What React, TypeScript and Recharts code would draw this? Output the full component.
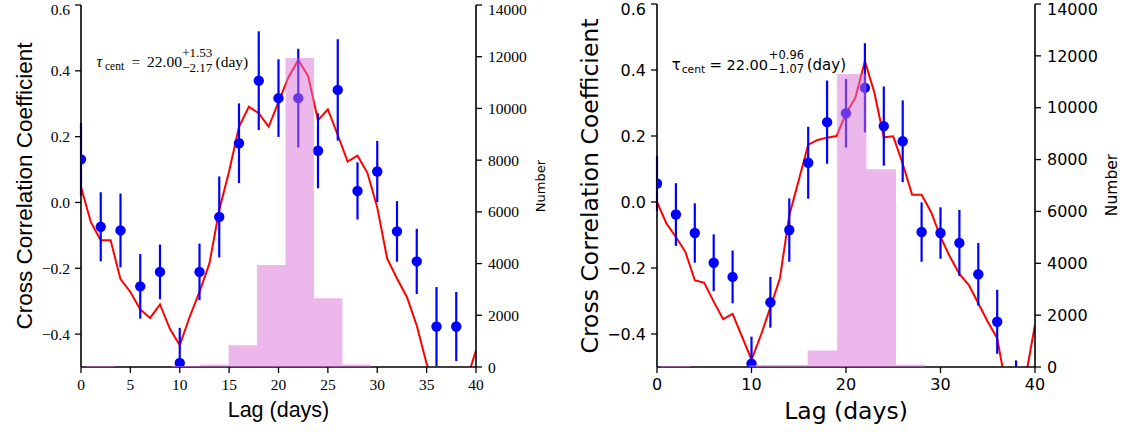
import React from 'react';
import { ComposedChart, XAxis, YAxis, Line, Scatter, ErrorBar, Area } from 'recharts';

// Lag grid (days) of the interpolated cross-correlation curve
const curveLags = [
  0, 1, 2, 3, 4, 5, 6, 7, 8, 9, 10, 11, 12, 13, 14, 15, 16, 17, 18, 19, 20,
  21, 22, 23, 24, 25, 26, 27, 28, 29, 30, 31, 32, 33, 34, 35, 36, 37, 38, 39, 40,
];
const iccfA = [
  0.047, -0.06, -0.115, -0.115, -0.233, -0.272, -0.325, -0.351, -0.31, -0.384, -0.434,
  -0.348, -0.272, -0.186, -0.023, 0.095, 0.23, 0.291, 0.271, 0.23, 0.305,
  0.38, 0.433, 0.384, 0.25, 0.283, 0.205, 0.124, 0.142, 0.09, -0.015,
  -0.17, -0.231, -0.287, -0.374, -0.49, -0.57, -0.62, -0.63, -0.545, -0.45,
];
const iccfB = [
  0.0, -0.065, -0.106, -0.151, -0.237, -0.245, -0.302, -0.355, -0.339, -0.408, -0.478,
  -0.403, -0.319, -0.232, -0.04, 0.066, 0.174, 0.188, 0.195, 0.2, 0.268,
  0.317, 0.427, 0.332, 0.196, 0.199, 0.116, 0.022, 0.022, -0.03, -0.106,
  -0.166, -0.218, -0.252, -0.307, -0.363, -0.413, -0.57, -0.62, -0.532, -0.372,
];

// Discrete correlation points with symmetric 1-sigma errors
const pointLags = [0, 2, 4, 6, 8, 10, 12, 14, 16, 18, 20, 22, 24, 26, 28, 30, 32, 34, 36, 38];
const dcfA = [
  0.131, -0.074, -0.085, -0.255, -0.211, -0.488, -0.211, -0.044, 0.18, 0.37,
  0.317, 0.317, 0.157, 0.342, 0.035, 0.094, -0.088, -0.179, -0.377, -0.377,
];
const dcfErrA = [
  0.11, 0.105, 0.112, 0.098, 0.083, 0.107, 0.086, 0.123, 0.121, 0.15,
  0.118, 0.15, 0.114, 0.154, 0.087, 0.093, 0.092, 0.099, 0.12, 0.105,
];
const dcfB = [
  0.056, -0.038, -0.094, -0.184, -0.227, -0.49, -0.304, -0.085, 0.119, 0.242,
  0.269, 0.346, 0.23, 0.184, -0.091, -0.094, -0.124, -0.219, -0.363, -0.58,
];
const dcfErrB = [
  0.083, 0.095, 0.09, 0.086, 0.08, 0.082, 0.077, 0.096, 0.109, 0.126,
  0.104, 0.135, 0.12, 0.124, 0.09, 0.078, 0.1, 0.095, 0.097, 0.1,
];

// Centroid lag distributions: bin left edges (the last edge closes the final bin) and counts
const binEdgesA = [0.55, 3.43, 6.31, 9.19, 12.07, 14.95, 17.83, 20.71, 23.59, 26.47, 29.35];
const binCountsA = [40, 0, 0, 40, 100, 840, 3940, 11950, 2660, 100, 0];
const binEdgesB = [0.4, 3.51, 6.62, 9.73, 12.84, 15.95, 19.06, 22.17, 25.28, 28.39];
const binCountsB = [40, 0, 0, 80, 80, 640, 11300, 7630, 90, 0];

const ccfDomain = [-0.5, 0.6];
const ccfTicks = [-0.4, -0.2, 0, 0.2, 0.4, 0.6];
const countTicks = [0, 2000, 4000, 6000, 8000, 10000, 12000, 14000];
const lagTicksA = [0, 5, 10, 15, 20, 25, 30, 35, 40];
const lagTicksB = [0, 10, 20, 30, 40];

const BLUE = '#0000ff';
const RED = '#ff0000';
const ORCHID = '#da70d6';
const SERIF = '"Liberation Serif", "Times New Roman", serif';
const SANS = '"DejaVu Sans", sans-serif';
const CMSANS = '"Liberation Sans", Arial, sans-serif';

const fmtCcf = (v: number) => (v < 0 ? '\u2212' : '') + Math.abs(v).toFixed(1);
const fmtInt = (v: number) => String(v);

const Dot = (props: any) =>
  props.cx == null ? null : <circle cx={props.cx} cy={props.cy} r={5.2} fill={BLUE} />;

type PanelProps = {
  left: number;
  width: number;
  top: number;
  leftW: number;
  rightW: number;
  curve: number[];
  points: number[];
  errs: number[];
  edges: number[];
  counts: number[];
  lagTicks: number[];
  tickFont: string;
  tickSize: number;
};

function Panel(p: PanelProps) {
  const curveData = curveLags.map((lag, i) => ({ lag, ccf: p.curve[i] }));
  // error bars stop at the lower edge of the correlation axis, like the plot frame does
  const pointData = pointLags.map((lag, i) => ({
    lag,
    r: p.points[i],
    err: [Math.min(p.errs[i], p.points[i] - ccfDomain[0]), p.errs[i]],
  }));
  const histData = p.edges.map((lag, i) => ({ lag, count: p.counts[i] }));
  const tick = { fontFamily: p.tickFont, fontSize: p.tickSize, fill: '#000' };
  const axisLine = { stroke: '#000', strokeWidth: 1.6 };
  const tickLine = { stroke: '#000', strokeWidth: 1.3 };
  return (
    <div style={{ position: 'absolute', left: p.left, top: 0 }}>
      <ComposedChart
        width={p.width}
        height={432}
        margin={{ top: p.top, right: 0, bottom: 0, left: 0 }}
      >
        <XAxis
          xAxisId="x"
          dataKey="lag"
          type="number"
          domain={[0, 40]}
          ticks={p.lagTicks}
          tickFormatter={fmtInt}
          allowDataOverflow
          height={65}
          tickSize={6}
          tickMargin={6}
          tick={tick}
          axisLine={axisLine}
          tickLine={tickLine}
        />
        <XAxis
          xAxisId="top"
          orientation="top"
          type="number"
          domain={[0, 40]}
          height={0}
          tick={false}
          tickLine={false}
          axisLine={axisLine}
        />
        <YAxis
          yAxisId="c"
          orientation="left"
          type="number"
          domain={ccfDomain}
          ticks={ccfTicks}
          tickFormatter={fmtCcf}
          allowDataOverflow
          width={p.leftW}
          tickSize={6}
          tickMargin={5}
          tick={tick}
          axisLine={axisLine}
          tickLine={tickLine}
        />
        <YAxis
          yAxisId="n"
          orientation="right"
          type="number"
          domain={[0, 14000]}
          ticks={countTicks}
          tickFormatter={fmtInt}
          allowDataOverflow
          width={p.rightW}
          tickSize={6}
          tickMargin={6}
          tick={tick}
          axisLine={axisLine}
          tickLine={tickLine}
        />
        <Line
          xAxisId="x"
          yAxisId="c"
          data={curveData}
          dataKey="ccf"
          type="linear"
          stroke={RED}
          strokeWidth={2}
          dot={false}
          activeDot={false}
          isAnimationActive={false}
        />
        <Scatter
          xAxisId="x"
          yAxisId="c"
          data={pointData}
          dataKey="r"
          fill={BLUE}
          shape={Dot}
          isAnimationActive={false}
        >
          <ErrorBar dataKey="err" direction="y" width={0} stroke={BLUE} strokeWidth={2.2} />
        </Scatter>
        <Area
          xAxisId="x"
          yAxisId="n"
          data={histData}
          dataKey="count"
          type="stepAfter"
          stroke="none"
          fill={ORCHID}
          fillOpacity={0.5}
          baseValue={0}
          dot={false}
          activeDot={false}
          isAnimationActive={false}
          {...({ zIndex: 650 } as any)}
        />
      </ComposedChart>
    </div>
  );
}

function Titles() {
  return (
    <svg
      width={1133}
      height={432}
      style={{ position: 'absolute', left: 0, top: 0, pointerEvents: 'none' }}
    >
      {/* left panel */}
      <text x={31.5} y={186} transform="rotate(-90 31.5 186)" textAnchor="middle" fontFamily={CMSANS} fontSize={22.5} fill="#000">
        Cross Correlation Coefficient
      </text>
      <text x={278.5} y={416.5} textAnchor="middle" fontFamily={CMSANS} fontSize={21.5} fill="#000">
        Lag (days)
      </text>
      <text x={545} y={186} transform="rotate(-90 545 186)" textAnchor="middle" fontFamily={SANS} fontSize={13} fill="#000">
        Number
      </text>
      <g fontFamily={SERIF} fill="#000">
        <text x={96.5} y={66.5} fontSize={16} fontStyle="italic">τ</text>
        <text x={105} y={69.5} fontSize={11.5}>cent</text>
        <text x={131.5} y={66.5} fontSize={15.5}>=</text>
        <text x={147} y={66.5} fontSize={15.5}>22.00</text>
        <text x={182.2} y={57} fontSize={13}>+1.53</text>
        <text x={182.2} y={71.5} fontSize={13}>{'\u22122.17'}</text>
        <text x={215.5} y={66.5} fontSize={15.5}>(day)</text>
      </g>
      {/* right panel */}
      <text x={598} y={186} transform="rotate(-90 598 186)" textAnchor="middle" fontFamily={SANS} fontSize={23.5} fill="#000">
        Cross Correlation Coefficient
      </text>
      <text x={846} y={419.3} textAnchor="middle" fontFamily={SANS} fontSize={23.5} fill="#000">
        Lag (days)
      </text>
      <text x={1117} y={185} transform="rotate(-90 1117 185)" textAnchor="middle" fontFamily={SANS} fontSize={15.5} fill="#000">
        Number
      </text>
      <g fontFamily={SANS} fill="#000">
        <text x={671.7} y={70} fontSize={15}>τ</text>
        <text x={681.7} y={73} fontSize={10.8}>cent</text>
        <text x={709.5} y={70} fontSize={15}>=</text>
        <text x={726.5} y={70} fontSize={14.5}>22.00</text>
        <text x={768.8} y={59} fontSize={11.5}>+0.96</text>
        <text x={768.8} y={73} fontSize={11.5}>{'\u22121.07'}</text>
        <text x={806.7} y={70} fontSize={15}>(day)</text>
      </g>
    </svg>
  );
}

export default function App() {
  return (
    <div style={{ position: 'absolute', left: 0, top: 0, width: 1133, height: 432, background: '#fff' }}>
      <Panel
        left={0}
        width={610}
        top={5}
        leftW={81}
        rightW={134}
        curve={iccfA}
        points={dcfA}
        errs={dcfErrA}
        edges={binEdgesA}
        counts={binCountsA}
        lagTicks={lagTicksA}
        tickFont={SERIF}
        tickSize={15.5}
      />
      <Panel
        left={560}
        width={573}
        top={4}
        leftW={97}
        rightW={98}
        curve={iccfB}
        points={dcfB}
        errs={dcfErrB}
        edges={binEdgesB}
        counts={binCountsB}
        lagTicks={lagTicksB}
        tickFont={SANS}
        tickSize={16}
      />
      <Titles />
    </div>
  );
}
